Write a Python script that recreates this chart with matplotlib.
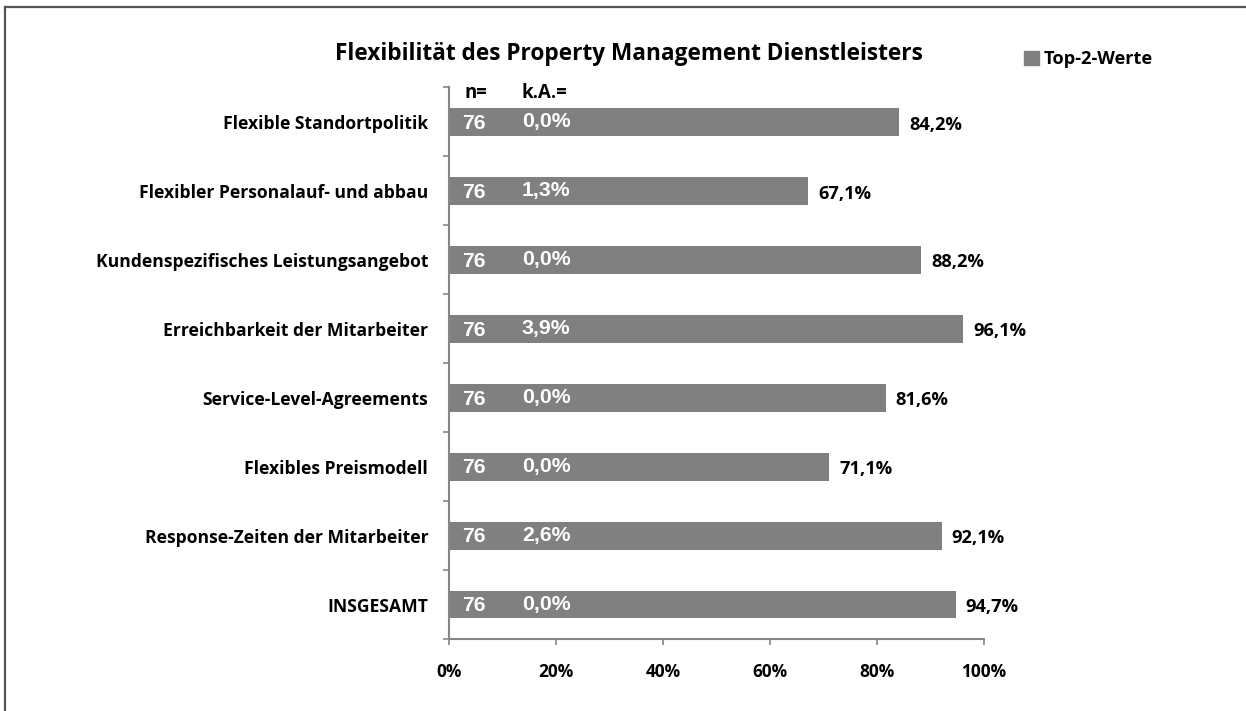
import matplotlib
matplotlib.use("Agg")
import matplotlib.pyplot as plt
from matplotlib.lines import Line2D
from matplotlib.patches import Patch

# ==========================
# DATA
# ==========================
categories = [
    "Flexible Standortpolitik",
    "Flexibler Personalauf- und abbau",
    "Kundenspezifisches Leistungsangebot",
    "Erreichbarkeit der Mitarbeiter",
    "Service-Level-Agreements",
    "Flexibles Preismodell",
    "Response-Zeiten der Mitarbeiter",
    "INSGESAMT",
]
top2 = [84.2, 67.1, 88.2, 96.1, 81.6, 71.1, 92.1, 94.7]
n_vals = [76, 76, 76, 76, 76, 76, 76, 76]
ka_vals = [0.0, 1.3, 0.0, 3.9, 0.0, 0.0, 2.6, 0.0]
xticks = [0, 20, 40, 60, 80, 100]

title = "Flexibilität des Property Management Dienstleisters"
legend_label = "Top-2-Werte"

# ==========================
# STYLE
# ==========================
BAR_COLOR = "#808080"
AXIS_COLOR = "#868686"
LABEL_FONT = "Open Sans"
INBAR_FONT = "Liberation Sans"


def de_pct(v):
    return f"{v:.1f}%".replace(".", ",")


fig = plt.figure(figsize=(12.46, 7.11), dpi=100)
renderer = fig.canvas.get_renderer()


def fit_size(text, family, target_px, base=12.0):
    # font size so that the bold text is target_px wide
    t = fig.text(0, 0, text, fontsize=base, fontfamily=family, fontweight="bold")
    w = t.get_window_extent(renderer=renderer).width
    t.remove()
    return base * target_px / w


fs_label = fit_size("Flexible Standortpolitik", LABEL_FONT, 205)
fs_title = fit_size(title, LABEL_FONT, 588)
fs_legend = fit_size(legend_label, LABEL_FONT, 109)
fs_value = fit_size("94,7%", LABEL_FONT, 53)
fs_tick = fit_size("100%", LABEL_FONT, 45)
fs_inbar = fit_size("0,0%", INBAR_FONT, 48)
fs_head = fit_size("k.A.=", LABEL_FONT, 46)

ax = fig.add_axes([0.3604, 0.1013, 0.7897 - 0.3604, 0.8772 - 0.1013])

ypos = list(range(len(categories)))
ax.barh(ypos, top2, height=0.405, color=BAR_COLOR, zorder=2)
ax.set_ylim(len(categories) - 0.5, -0.5)
ax.set_xlim(0, 100)

# ticks & spines
ax.set_xticks(xticks)
ax.set_xticklabels([f"{t}%" for t in xticks], fontfamily=LABEL_FONT,
                   fontweight="bold", fontsize=fs_tick)
ax.set_yticks([i - 0.5 for i in range(len(categories) + 1)])
ax.set_yticklabels([])
ax.tick_params(axis="x", length=4.5, color=AXIS_COLOR, width=1.2, pad=13)
ax.tick_params(axis="y", length=4.5, color=AXIS_COLOR, width=1.2)
for side in ["top", "right"]:
    ax.spines[side].set_visible(False)
for side in ["left", "bottom"]:
    ax.spines[side].set_color(AXIS_COLOR)
    ax.spines[side].set_linewidth(1.5)

# category labels
for i, cat in enumerate(categories):
    ax.text(-3.9, i + 0.03, cat, ha="right", va="center", fontfamily=LABEL_FONT,
            fontweight="bold", fontsize=fs_label)

# in-bar labels and value labels
for i in ypos:
    ax.text(2.4, i + 0.02, str(n_vals[i]), ha="left", va="center", color="white",
            fontfamily=INBAR_FONT, fontweight="bold", fontsize=fs_inbar, zorder=3)
    ax.text(13.6, i + 0.0, de_pct(ka_vals[i]), ha="left", va="center", color="white",
            fontfamily=INBAR_FONT, fontweight="bold", fontsize=fs_inbar, zorder=3)
    ax.text(top2[i] + 1.9, i + 0.04, de_pct(top2[i]), ha="left", va="center",
            fontfamily=LABEL_FONT, fontweight="bold", fontsize=fs_value)

# column headers
ax.text(5.0, -0.42, "n=", ha="center", va="center", fontfamily=LABEL_FONT,
        fontweight="bold", fontsize=fs_head)
ax.text(17.9, -0.42, "k.A.=", ha="center", va="center", fontfamily=LABEL_FONT,
        fontweight="bold", fontsize=fs_head)

# title & legend
fig.text(0.5048, 0.924, title, ha="center", va="center", fontfamily=LABEL_FONT,
         fontweight="bold", fontsize=fs_title)
fig.legend(handles=[Patch(color=BAR_COLOR, label=legend_label)],
           loc="center left", bbox_to_anchor=(1024 / 1246, 0.917), frameon=False,
           prop={"family": LABEL_FONT, "weight": "bold", "size": fs_legend},
           handlelength=0.8, handleheight=0.8, handletextpad=0.3,
           borderpad=0, borderaxespad=0)

# outer border (top and left edges)
fig.add_artist(Line2D([0.0038, 1.0], [0.990, 0.990], transform=fig.transFigure,
                      color="#555555", lw=1.6))
fig.add_artist(Line2D([0.0038, 0.0038], [0.0, 0.990], transform=fig.transFigure,
                      color="#555555", lw=1.6))

fig.savefig("out.png", dpi=100)
